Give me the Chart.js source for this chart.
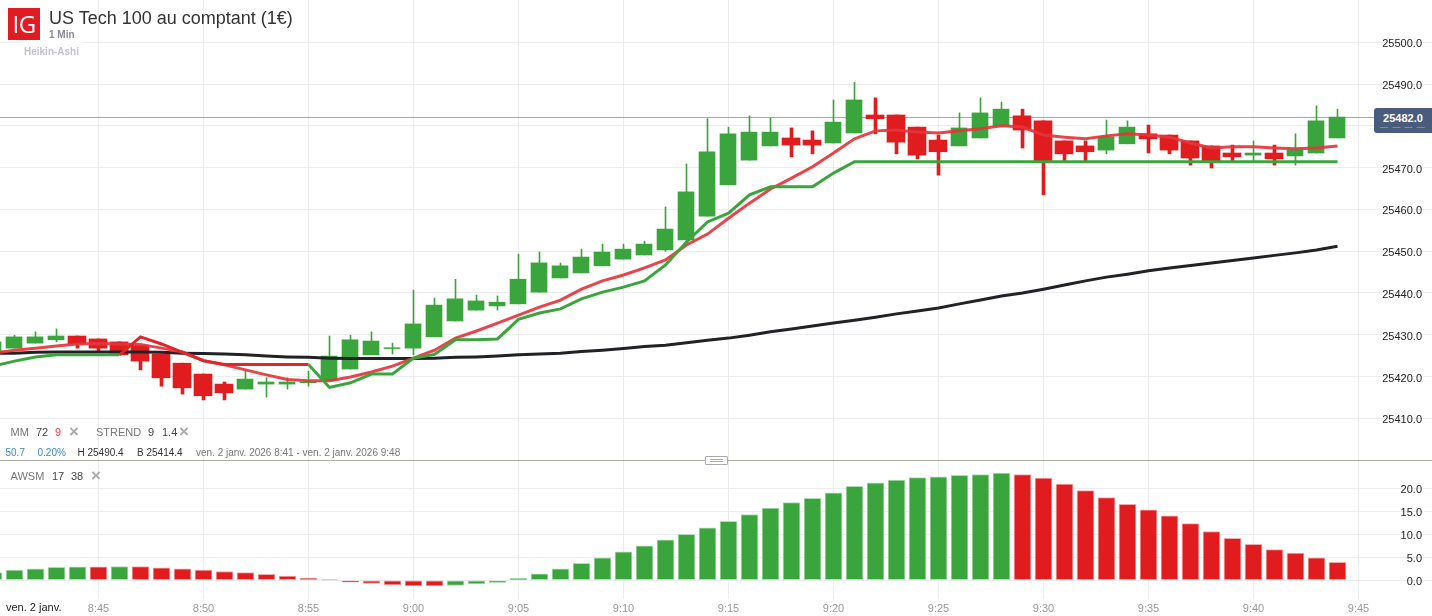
<!DOCTYPE html>
<html lang="fr">
<head>
<meta charset="utf-8">
<title>US Tech 100 au comptant (1€)</title>
<script src="https://cdn.jsdelivr.net/npm/chart.js@4"></script>
<style>
html,body{margin:0;padding:0;background:#fff;width:1432px;height:616px;overflow:hidden;font-family:"Liberation Sans",Arial,sans-serif}
canvas{position:absolute;left:0}
#main{top:0}
#sub{top:461px}
.t{position:absolute;white-space:nowrap;line-height:1}
#sep{position:absolute;left:0;top:460px;width:1432px;height:1px;background:#aeaca4}
#handle{position:absolute;left:705px;top:456px;width:21px;height:7px;background:#fff;border:1px solid #a9a9b1;border-radius:1px}
#handle:before,#handle:after{content:"";position:absolute;left:4px;width:13px;height:1px;background:#a9a9b1}
#handle:before{top:2px}#handle:after{top:4px}
#logo{position:absolute;left:8px;top:8px;width:32px;height:32px;background:#e01b22;color:#fff;font:500 24px/32px "Open Sans",sans-serif;text-align:center;letter-spacing:-.5px}
#hbg{position:absolute;left:21px;top:41px;width:61px;height:18px;background:#fff}
#badge{position:absolute;left:1374px;top:108px;width:58px;height:25px;background:#4a5c7e;border-radius:3px 0 0 3px;color:#fff;font:bold 11px/20px "Liberation Sans",sans-serif;text-align:center;overflow:hidden}
#badge small{position:absolute;left:0;right:0;top:14px;font:8px/10px "Liberation Sans",sans-serif;color:#aeb7c8;letter-spacing:1px}
</style>
</head>
<body>
<canvas id="main" width="1432" height="460"></canvas>
<canvas id="sub" width="1432" height="155"></canvas>
<div id="sep"></div><div id="handle"></div>
<div id="logo">IG</div>
<div class="t" style="left:49px;top:9px;font-size:18px;color:#333">US Tech 100 au comptant (1€)</div>
<div class="t" style="left:49px;top:30px;font-size:10px;font-weight:bold;color:#8a8a96">1 Min</div>
<div id="hbg"></div>
<div class="t" style="left:24px;top:47px;font-size:10px;font-weight:bold;color:#c3c3cb">Heikin-Ashi</div>
<div class="t" style="left:10.5px;top:427px;font-size:11px;color:#777">MM</div>
<div class="t" style="left:36px;top:427px;font-size:11px;color:#444">72</div>
<div class="t" style="left:55px;top:427px;font-size:11px;color:#e8434a">9</div>
<div class="t" style="left:69px;top:423px;font-size:17px;font-weight:bold;color:#aaa">×</div>
<div class="t" style="left:96px;top:427px;font-size:11px;color:#777">STREND</div>
<div class="t" style="left:148px;top:427px;font-size:11px;color:#444">9</div>
<div class="t" style="left:162px;top:427px;font-size:11px;color:#444">1.4</div>
<div class="t" style="left:179px;top:423px;font-size:17px;font-weight:bold;color:#aaa">×</div>
<div class="t" style="left:5.5px;top:448px;font-size:10px;color:#3a87c8">50.7</div>
<div class="t" style="left:37.5px;top:448px;font-size:10px;color:#3a87c8">0.20%</div>
<div class="t" style="left:77.5px;top:448px;font-size:10px;color:#333">H 25490.4</div>
<div class="t" style="left:137px;top:448px;font-size:10px;color:#333">B 25414.4</div>
<div class="t" style="left:196px;top:448px;font-size:10px;color:#777">ven. 2 janv. 2026 8:41 - ven. 2 janv. 2026 9:48</div>
<div class="t" style="left:10.5px;top:471px;font-size:11px;color:#777">AWSM</div>
<div class="t" style="left:52px;top:471px;font-size:11px;color:#444">17</div>
<div class="t" style="left:71px;top:471px;font-size:11px;color:#444">38</div>
<div class="t" style="left:91px;top:467px;font-size:17px;font-weight:bold;color:#aaa">×</div>
<div class="t" style="left:6px;top:602px;font-size:11px;color:#222">ven. 2 janv.</div>
<div id="badge">25482.0<small>— — — —</small></div>
<script>
const times = ['8:40','8:41','8:42','8:43','8:44','8:45','8:46','8:47','8:48','8:49','8:50','8:51','8:52','8:53','8:54','8:55','8:56','8:57','8:58','8:59',
'9:00','9:01','9:02','9:03','9:04','9:05','9:06','9:07','9:08','9:09','9:10','9:11','9:12','9:13','9:14','9:15','9:16','9:17','9:18','9:19',
'9:20','9:21','9:22','9:23','9:24','9:25','9:26','9:27','9:28','9:29','9:30','9:31','9:32','9:33','9:34','9:35','9:36','9:37','9:38','9:39',
'9:40','9:41','9:42','9:43','9:44'];
const xTickLabels = ['8:45','8:50','8:55','9:00','9:05','9:10','9:15','9:20','9:25','9:30','9:35','9:40','9:45'];
const priceTicks = [25410,25420,25430,25440,25450,25460,25470,25480,25490,25500];
const oscTicks = [0,5,10,15,20];
const lastPrice = 25482.0;

const opens = [25425.9,25426.8,25428.0,25428.8,25429.7,25429.0,25428.3,25427.5,25425.4,25423.2,25420.6,25418.2,25417.0,25418.2,25418.2,25418.5,25419.0,25421.8,25425.2,25426.7,
25426.8,25429.5,25433.3,25435.9,25436.9,25437.4,25440.2,25443.6,25444.8,25446.5,25448.1,25449.1,25450.3,25452.7,25458.4,25465.9,25471.8,25475.2,25477.1,25476.6,
25475.9,25478.3,25482.6,25482.6,25479.7,25476.6,25475.2,25477.1,25480.0,25482.4,25481.2,25476.4,25475.2,25474.2,25475.7,25478.1,25477.8,25476.4,25475.2,25473.5,
25473.0,25473.5,25472.8,25473.5,25477.1];
const closes = [25428.3,25429.5,25429.5,25429.7,25427.8,25426.8,25425.2,25423.7,25419.7,25417.3,25415.4,25416.1,25419.4,25418.7,25418.7,25418.7,25424.9,25428.8,25428.5,25426.9,
25432.6,25437.1,25438.6,25438.1,25437.8,25443.3,25447.2,25446.5,25448.6,25449.8,25450.5,25451.7,25455.3,25464.2,25473.8,25478.1,25478.5,25478.5,25475.4,25475.4,
25480.9,25486.2,25481.7,25476.1,25473.0,25473.8,25479.5,25483.1,25484.0,25479.0,25471.6,25473.3,25473.8,25477.4,25479.7,25476.9,25474.2,25472.3,25471.6,25472.6,
25473.5,25472.1,25474.2,25481.2,25482.1];
const highs = [25428.8,25429.9,25430.7,25431.4,25429.7,25429.0,25428.3,25427.5,25425.4,25423.2,25420.6,25418.7,25421.6,25419.7,25419.7,25421.3,25429.7,25429.9,25430.7,25428.0,
25440.7,25438.8,25443.3,25439.5,25439.3,25449.3,25449.8,25447.2,25450.5,25451.7,25451.7,25452.4,25460.6,25470.9,25481.7,25479.7,25482.4,25481.9,25479.5,25478.8,
25486.2,25490.4,25486.7,25482.6,25479.7,25477.8,25483.1,25486.7,25485.7,25484.0,25481.2,25476.4,25476.4,25481.4,25481.2,25480.2,25477.8,25476.4,25475.2,25475.4,
25476.4,25475.4,25478.1,25484.8,25484.0];
const lows = [25425.9,25426.8,25428.0,25428.3,25426.8,25426.1,25425.2,25421.6,25417.7,25415.8,25414.4,25414.4,25417.0,25415.1,25417.0,25417.7,25419.0,25421.8,25425.2,25425.4,
25425.2,25429.5,25433.3,25435.9,25435.9,25437.4,25440.2,25443.6,25444.8,25446.5,25448.1,25449.1,25450.0,25452.7,25458.4,25465.9,25471.8,25475.2,25472.6,25473.3,
25475.9,25478.3,25478.1,25473.3,25472.1,25468.2,25475.2,25477.1,25480.0,25474.7,25463.5,25471.6,25471.6,25473.3,25475.7,25473.5,25473.3,25470.6,25469.9,25471.6,
25471.6,25470.6,25470.6,25473.5,25477.1];
const mm72 = [25425.6,25425.6,25425.8,25425.9,25425.9,25425.9,25425.9,25425.9,25425.8,25425.6,25425.5,25425.4,25425.2,25424.9,25424.7,25424.6,25424.4,25424.3,25424.3,25424.3,
25424.3,25424.4,25424.6,25424.7,25424.9,25425.2,25425.4,25425.6,25426.0,25426.3,25426.7,25427.2,25427.5,25428.1,25428.7,25429.2,25429.9,25430.7,25431.4,25432.1,
25432.8,25433.5,25434.2,25435.0,25435.7,25436.4,25437.4,25438.3,25439.3,25440.0,25440.9,25441.9,25442.9,25443.8,25444.5,25445.3,25446.0,25446.6,25447.2,25447.8,
25448.4,25449.0,25449.6,25450.3,25451.2];
const mm9 = [25425.6,25426.3,25426.8,25427.3,25427.8,25427.9,25427.8,25427.7,25426.8,25425.9,25423.8,25422.8,25421.6,25420.4,25419.3,25419.0,25419.0,25419.9,25421.1,25422.5,
25424.4,25426.3,25429.2,25430.9,25432.8,25434.7,25436.6,25438.3,25440.9,25442.9,25444.3,25446.0,25447.9,25451.5,25454.1,25457.9,25461.5,25464.9,25467.5,25470.2,
25473.5,25476.9,25478.8,25479.0,25478.5,25478.3,25478.8,25479.3,25480.0,25479.7,25477.8,25477.3,25476.9,25477.6,25478.1,25477.8,25477.3,25475.9,25474.7,25475.0,
25475.0,25474.7,25474.5,25474.7,25475.2];
const strendUp = [25422.5,25423.7,25424.7,25425.2,25425.2,25425.2,25425.2,null,null,null,null,null,null,null,null,25422.9,25417.4,25418.5,25420.6,25420.6,
25424.4,25425.3,25428.8,25428.8,25429.0,25433.7,25435.2,25436.2,25438.6,25440.2,25441.4,25442.9,25446.7,25452.2,25457.0,25459.1,25463.5,25465.4,25465.4,25465.4,
25468.7,25471.4,25471.4,25471.4,25471.4,25471.4,25471.4,25471.4,25471.4,25471.4,25471.4,25471.4,25471.4,25471.4,25471.4,25471.4,25471.4,25471.4,25471.4,25471.4,
25471.4,25471.4,25471.4,25471.4,25471.4];
const strendDown = [null,null,null,null,null,null,25425.2,25429.5,25427.8,25425.8,25423.8,25422.9,25422.9,25422.9,25422.9,25422.9];
const awsm = [1.7,2.2,2.5,2.8,2.9,2.9,3.0,3.0,2.7,2.5,2.2,1.9,1.7,1.3,0.9,0.5,0.1,-0.4,-0.7,-1.0,
-1.2,-1.2,-1.1,-0.8,-0.5,0.4,1.4,2.5,3.7,4.9,6.2,7.5,8.8,10.0,11.4,12.8,14.3,15.7,16.9,17.8,
19.0,20.4,21.2,21.8,22.3,22.5,22.8,23.0,23.3,23.0,22.2,20.9,19.5,18.0,16.5,15.3,14.0,12.3,10.6,9.1,
7.8,6.7,5.9,4.9,3.9];
const awsmDir = 'gggggrg'+'rrrrrrrrrrrrrrr'+'ggggggggggggggggggggggggggg'+'rrrrrrrrrrrrrrrr';

const GREEN='#3aa53c', RED='#e01c1f', GRID='#ecedef';
const origin = 8*60+45;
const toX = s => { const [h,m]=s.split(':').map(Number); return h*60+m-origin; };
const mins = times.map(toX);
const pxPerMin = 21, x0 = 98.5;
const xMin = -x0/pxPerMin, xMax = (1432-x0)/pxPerMin;
const bodyShift = 0.5/pxPerMin;
const xTickVals = xTickLabels.map(toX);
Chart.defaults.font.family = '"Liberation Sans",Arial,sans-serif';
Chart.defaults.font.size = 11;

function pick(test, val){ const out=[]; mins.forEach((m,i)=>{ if(test(i)) out.push({x:m,y:val(i)}); }); return out; }
const isUp = i => closes[i]>=opens[i];
const series = (arr)=>arr.map((v,i)=>({x:mins[i],y:v}));
const wick = (data,color,w)=>({type:'bar',data,backgroundColor:color,barThickness:w,grouped:false,order:11,xAxisID:'x',yAxisID:'y'});
const body = (data,color,w)=>({type:'bar',data,backgroundColor:color,barThickness:w,grouped:false,order:10,xAxisID:'xBody',yAxisID:'y'});
const line = (arr,color,order)=>({type:'line',data:series(arr),borderColor:color,borderWidth:3,pointRadius:0,tension:0,spanGaps:false,fill:false,order,xAxisID:'x',yAxisID:'y',borderJoinStyle:'miter'});

const xGrid = {color:GRID,lineWidth:1,drawTicks:false,offset:false};
const fixX = s => { s.ticks = xTickVals.map(v=>({value:v})); };
const noPadY = s => { s.width=0; s.paddingTop=0; s.paddingBottom=0; };

new Chart(document.getElementById('main'),{
  type:'bar',
  data:{datasets:[
    wick(pick(isUp,i=>[lows[i],highs[i]]),GREEN,1),
    wick(pick(i=>!isUp(i),i=>[lows[i],highs[i]]),RED,3),
    body(pick(isUp,i=>[opens[i],closes[i]]),GREEN,16),
    body(pick(i=>!isUp(i),i=>[closes[i],opens[i]]),RED,18),
    {type:'line',data:[{x:xMin,y:lastPrice},{x:xMax,y:lastPrice}],borderColor:'#a2a6ae',borderWidth:1,pointRadius:0,order:12,xAxisID:'x',yAxisID:'y'},
    line(mm72,'#222226',3),
    line(mm9,'rgba(230,52,60,0.92)',2),
    line(strendUp,GREEN,1),
    line(strendDown,'#e0252b',1)
  ]},
  options:{
    responsive:false,animation:false,devicePixelRatio:1,
    layout:{padding:0},
    plugins:{legend:{display:false},tooltip:{enabled:false},title:{display:false}},
    scales:{
      x:{type:'linear',min:xMin,max:xMax,offset:false,position:'bottom',grid:xGrid,border:{display:false},
         ticks:{display:false},afterBuildTicks:fixX,afterFit:s=>{s.height=0;}},
      xBody:{type:'linear',min:xMin+bodyShift,max:xMax+bodyShift,offset:false,display:false},
      y:{type:'linear',position:'right',min:25400.03,max:25510.12,grid:{color:GRID,drawTicks:false},border:{display:false},
         afterBuildTicks:s=>{s.ticks=priceTicks.map(v=>({value:v}));},
         afterFit:noPadY,
         ticks:{mirror:true,padding:-10,labelOffset:2,color:'#222',font:{size:11},callback:v=>v.toFixed(1)}}
    }
  }
});

new Chart(document.getElementById('sub'),{
  type:'bar',
  data:{datasets:[{
    data:series(awsm),
    backgroundColor:awsm.map((_,i)=>awsmDir[i]==='g'?GREEN:RED),
    borderColor:awsm.map((_,i)=>awsmDir[i]==='g'?'#b4dcb6':'#f4a9ac'),
    borderWidth:1,borderSkipped:false,barThickness:17,grouped:false
  }]},
  options:{
    responsive:false,animation:false,devicePixelRatio:1,
    layout:{padding:0},
    plugins:{legend:{display:false},tooltip:{enabled:false}},
    scales:{
      x:{type:'linear',min:xMin,max:xMax,offset:false,grid:xGrid,border:{display:false},
         afterBuildTicks:fixX,afterFit:s=>{s.height=17;s.paddingLeft=0;s.paddingRight=0;},
         ticks:{color:'#999',padding:3,font:{size:11},maxRotation:0,autoSkip:false,
                callback:v=>xTickLabels[xTickVals.indexOf(v)]||''}},
      y:{type:'linear',position:'right',min:-4.07,max:25.93,grid:{color:GRID,drawTicks:false},border:{display:false},
         afterBuildTicks:s=>{s.ticks=oscTicks.map(v=>({value:v}));},
         afterFit:noPadY,
         ticks:{mirror:true,padding:-10,labelOffset:2,color:'#222',font:{size:11},callback:v=>v.toFixed(1)}}
    }
  }
});
</script>
</body>
</html>
